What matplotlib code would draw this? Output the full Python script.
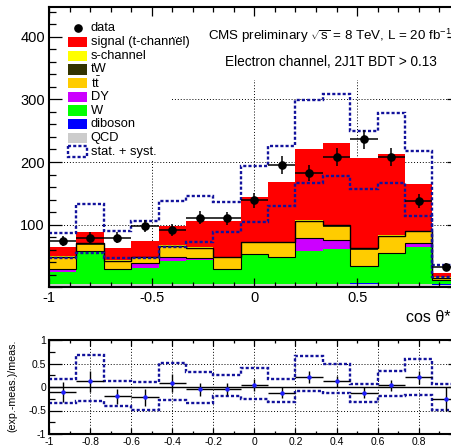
import numpy as np
import matplotlib
matplotlib.use("Agg")
import matplotlib.pyplot as plt
import matplotlib.transforms as mtransforms
from matplotlib.patches import Rectangle
from matplotlib.lines import Line2D
from matplotlib.ticker import MultipleLocator, FuncFormatter

plt.rcParams["font.family"] = ["Liberation Sans", "DejaVu Sans"]
plt.rcParams["mathtext.fontset"] = "custom"
plt.rcParams["mathtext.rm"] = "Liberation Sans"
plt.rcParams["mathtext.it"] = "Liberation Sans:italic"
plt.rcParams["axes.unicode_minus"] = False

# ── binning and values ──────────────────────────────────────────────
bin_edges = np.linspace(-1, 1, 16)

qcd = [5, 5, 5, 5, 5, 5, 5, 5, 5, 5, 5, 6, 5, 5, 4]
diboson = [0.8] * 15
wjets = [18.2, 51.7, 21.8, 24.5, 36.2, 37.8, 23.4, 45.8, 42.2, 52.7, 55.2, 26.2, 48.5, 58.2, 6.7]
dy = [6.0, 1.0, 0.9, 8.0, 7.0, 3.7, 0.8, 0.9, 1.0, 19.8, 15.0, 1.0, 1.2, 7.5, 0.5]
ttbar = [17.0, 9.5, 12.0, 8.2, 15.5, 14.2, 16.5, 17.5, 21.0, 25.2, 20.5, 26.0, 24.5, 16.0, 2.0]
tw = [1.5, 2.2, 2.0, 1.5, 1.8, 1.8, 1.8, 2.0, 2.0, 2.6, 2.4, 2.0, 2.2, 2.0, 1.2]
schan = [0.8] * 15
signal = [14.7, 18.0, 20.2, 25.2, 30.9, 41.9, 56.9, 71.9, 95.7, 114.1, 130.3, 143.2, 130.0, 74.7, 7.0]

data = [74, 79.5, 79.5, 98, 91.5, 111, 110, 139, 195, 182.5, 207.5, 236, 208, 138, 33]
data_err = [8.6, 8.9, 8.9, 9.9, 9.6, 10.5, 10.5, 11.8, 14.0, 13.5, 14.4, 15.4, 14.4, 11.7, 5.7]

band_up = [86, 133, 90, 106, 137, 145, 136, 193, 226, 299, 308, 250, 279, 218, 35.6]
band_dn = [47, 55, 47, 47, 65, 72, 88, 105, 130, 167, 177, 157, 166, 114, 17]

ratio = [-0.11, 0.12, -0.2, -0.22, 0.09, -0.05, -0.05, 0.04, -0.12, 0.22, 0.12, -0.12, 0.035, 0.21, -0.25]
ratio_err = [0.21, 0.22, 0.16, 0.18, 0.19, 0.14, 0.13, 0.13, 0.11, 0.13, 0.12, 0.11, 0.11, 0.14, 0.25]
ratio_up = [0.17, 0.69, 0.12, 0.1, 0.51, 0.32, 0.25, 0.4, 0.16, 0.65, 0.5, 0.07, 0.35, 0.6, 0.07]
ratio_dn = [-0.35, -0.3, -0.41, -0.49, -0.27, -0.34, -0.2, -0.25, -0.32, -0.085, -0.13, -0.32, -0.2, -0.16, -0.49]

layers = [
    ("QCD", qcd, "#cccccc"),
    ("diboson", diboson, "#0000ff"),
    ("W", wjets, "#00ff00"),
    ("DY", dy, "#cc00ff"),
    ("t$\\bar{\\mathrm{t}}$", ttbar, "#ffcc00"),
    ("tW", tw, "#333300"),
    ("s-channel", schan, "#ffff00"),
    ("signal (t-channel)", signal, "#ff0000"),
]

BAND_COLOR = "#12129c"
BAND_DASH = (0, (1.3, 0.9))
GRID_KW = dict(color="k", lw=0.7, ls=(0, (1, 2)), zorder=0.5)

# ── figure in pixel units (451 x 446) ───────────────────────────────
W, H = 451, 446
fig = plt.figure(figsize=(W / 100, H / 100), dpi=100)
fig.patch.set_facecolor("white")
pix = mtransforms.Affine2D().scale(1 / W, -1 / H).translate(0, 1) + fig.transFigure

ax = fig.add_axes([49 / W, 1 - 287.3 / H, 410.8 / W, 280 / H])
ax2 = fig.add_axes([49 / W, 1 - 434 / H, 410.8 / W, 94 / H])

centers = 0.5 * (bin_edges[1:] + bin_edges[:-1])
half_w = 0.5 * np.diff(bin_edges)


def _fmt(hide=()):
    # the right end label (1) falls outside the picture, as in the reference
    def f(v, pos):
        v = round(v, 6) + 0.0
        if v in hide:
            return ""
        return f"{v:g}"
    return FuncFormatter(f)


# ── main panel ─────────────────────────────────────────────────────
ax.set_xlim(-1, 1)
ax.set_ylim(0, 447)

for y in (100, 200, 300, 400):
    ax.axhline(y, **GRID_KW)
for x in (-0.5, 0, 0.5):
    ax.axvline(x, **GRID_KW)

# white panes behind legend and header text
ax.add_patch(Rectangle((49, 0), 123, 160, transform=pix, facecolor="white",
                       edgecolor="none", zorder=0.7))
ax.add_patch(Rectangle((188, 16), 272, 64, transform=pix, facecolor="white",
                       edgecolor="none", zorder=0.7))

base = np.zeros(len(centers))
tops = {}
for name, vals, color in layers:
    top = base + np.asarray(vals)
    ax.stairs(top, bin_edges, baseline=base, fill=True, color=color, lw=0.3, zorder=1)
    tops[name] = top
    base = top

ax.stairs(tops["DY"], bin_edges, baseline=None, color="k", lw=0.8, zorder=1.2)
ax.stairs(tops["tW"], bin_edges, baseline=None, color="k", lw=1.0, zorder=1.2)

ax.stairs(band_up, bin_edges, baseline=None, color=BAND_COLOR, lw=1.7, ls=BAND_DASH, zorder=2)
ax.stairs(band_dn, bin_edges, baseline=None, color=BAND_COLOR, lw=1.7, ls=BAND_DASH, zorder=2)

ax.errorbar(centers, data, xerr=half_w, yerr=data_err, fmt="o", color="k", ms=5.2,
            elinewidth=1.1, capsize=0, zorder=3)

ax.xaxis.set_major_locator(MultipleLocator(0.5))
ax.xaxis.set_minor_locator(MultipleLocator(0.1))
ax.yaxis.set_major_locator(MultipleLocator(100))
ax.yaxis.set_minor_locator(MultipleLocator(20))
ax.xaxis.set_major_formatter(_fmt(hide=(1.0,)))
ax.yaxis.set_major_formatter(_fmt(hide=(0.0,)))
ax.tick_params(which="both", direction="in", top=True, right=True, width=0.9,
               labelsize=10.5, pad=3)
ax.tick_params(axis="x", which="major", length=6.5)
ax.tick_params(axis="x", which="minor", length=3.3)
ax.tick_params(axis="y", which="major", length=9.5)
ax.tick_params(axis="y", which="minor", length=4.8)
for sp in ax.spines.values():
    sp.set_linewidth(1.5)

# legend drawn by hand, rows every 13.7 px
legend_rows = ["data"] + [name for name, _, _ in reversed(layers)] + ["stat. + syst."]
layer_colors = {name: color for name, _, color in layers}
for i, label in enumerate(legend_rows):
    yc = 28.3 + 13.7 * i
    if label == "data":
        ax.add_line(Line2D([77.7], [yc], transform=pix, marker="o", color="k", ms=5.2,
                           zorder=4, clip_on=False))
    elif label == "stat. + syst.":
        ax.add_patch(Rectangle((68, yc - 5.2), 19, 10.4, transform=pix, facecolor="white",
                               edgecolor=BAND_COLOR, lw=1.7, ls=BAND_DASH, zorder=4))
    else:
        ax.add_patch(Rectangle((68, yc - 5.2), 19, 10.4, transform=pix,
                               facecolor=layer_colors[label], edgecolor="none", zorder=4))
    ax.text(90.7, yc, label, transform=pix, fontsize=9.3, va="center", ha="left", zorder=4)

ax.text(208, 36, "CMS preliminary $\\sqrt{\\mathrm{s}}$ = 8 TeV, L = 20 fb$^{-1}$",
        transform=pix, fontsize=9.6, va="center", ha="left", zorder=4, clip_on=False)
ax.text(225, 62, "Electron channel, 2J1T BDT > 0.13", transform=pix, fontsize=9.8,
        va="center", ha="left", zorder=4)
fig.text(451, 318, "cos θ*", transform=pix, fontsize=11.5, va="center", ha="right")

# ── ratio panel ────────────────────────────────────────────────────
ax2.set_xlim(-1, 1)
ax2.set_ylim(-1, 1)
for y in (-0.5, 0.5):
    ax2.axhline(y, **GRID_KW)
for x in np.arange(-0.8, 0.81, 0.2):
    ax2.axvline(x, **GRID_KW)
ax2.axhline(0, color="k", lw=1.0, zorder=1)

ax2.stairs(ratio_up, bin_edges, baseline=None, color=BAND_COLOR, lw=1.7, ls=BAND_DASH, zorder=2)
ax2.stairs(ratio_dn, bin_edges, baseline=None, color=BAND_COLOR, lw=1.7, ls=BAND_DASH, zorder=2)
ax2.errorbar(centers, ratio, xerr=half_w, yerr=ratio_err, fmt="o", ms=2.2, mfc="#2020ff",
             mec="#2020ff", ecolor="k", elinewidth=1.0, capsize=0, zorder=3)

ax2.xaxis.set_major_locator(MultipleLocator(0.2))
ax2.xaxis.set_minor_locator(MultipleLocator(0.1))
ax2.yaxis.set_major_locator(MultipleLocator(0.5))
ax2.yaxis.set_minor_locator(MultipleLocator(0.25))
ax2.xaxis.set_major_formatter(_fmt(hide=(1.0,)))
ax2.yaxis.set_major_formatter(_fmt())
ax2.tick_params(which="both", direction="in", top=True, right=True, width=0.9,
                labelsize=7.5, pad=2)
ax2.tick_params(axis="x", which="major", length=4.5)
ax2.tick_params(axis="x", which="minor", length=2.3)
ax2.tick_params(axis="y", which="major", length=9.0)
ax2.tick_params(axis="y", which="minor", length=4.5)
for sp in ax2.spines.values():
    sp.set_linewidth(1.5)

fig.text(12, 386, "(exp.-meas.)/meas.", transform=pix, fontsize=7.7, rotation=90,
         va="center", ha="center")

fig.savefig("out.png", dpi=100)
